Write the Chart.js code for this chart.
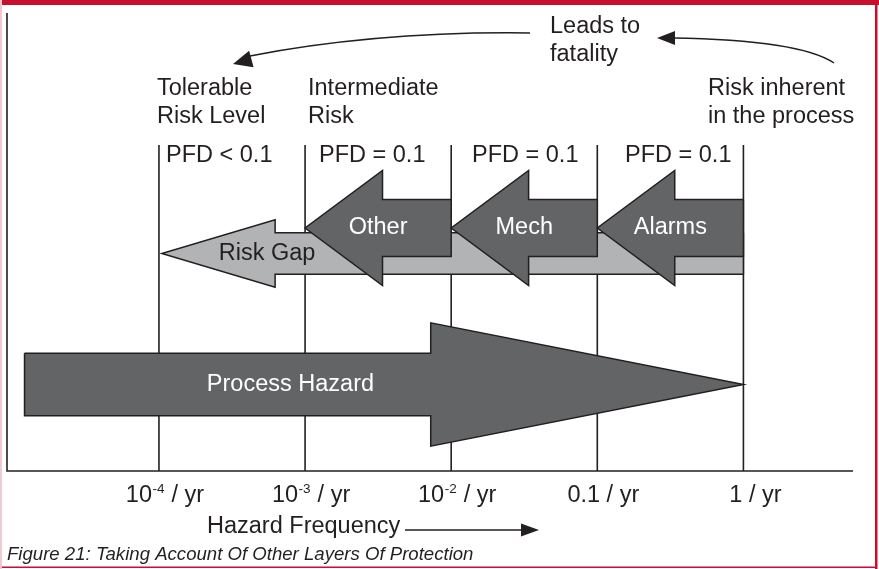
<!DOCTYPE html>
<html>
<head>
<meta charset="utf-8">
<script src="https://cdn.jsdelivr.net/npm/chart.js@4.4.0/dist/chart.umd.min.js"></script>
<style>
  html, body { margin: 0; padding: 0; background: #fff; }
  #wrap { width: 879px; height: 569px; position: relative; }
</style>
</head>
<body>
<div id="wrap"><canvas id="c" width="879" height="569"></canvas></div>
<script>
// hazard frequency, log10 of events per year
const decades = [-4, -3, -2, -1, 0];
const tickBase = ['10', '10', '10', '0.1', '1'];
const tickExp = ['-4', '-3', '-2', '', ''];
const pfdLabels = ['PFD < 0.1', 'PFD = 0.1', 'PFD = 0.1', 'PFD = 0.1'];

// protection layers, each takes the frequency down one decade
const layerNames = ['Alarms', 'Mech', 'Other'];
const layerFrom = [0, -1, -2];
const layerTo = [-1, -2, -3];

// unprotected process hazard and remaining gap
const hazardFrom = -4.92;
const hazardTo = 0;
const gapFrom = 0;
const gapTo = -3.98;

const FONT = '"Liberation Sans", Arial, Helvetica, sans-serif';
const INK = '#231f20';
const DARK = '#636466';
const LIGHT = '#b2b3b5';
const X_MIN = -5.04, X_MAX = 0.75, Y_MAX = 458;
const LINE_TOP = 326;

// arrow shapes: centre y, half heights, head length (in decades)
const LAYER = { y: 243, shaft: 28.5, head: 57.5, len: 0.53 };
const GAP = { y: 217.5, shaft: 20.7, head: 33.7, len: 0.775 };
const HAZ = { y: 86.5, shaft: 31.2, head: 61.7, len: 2.14 };

function arrow(tail, tip, g) {
  const d = tip > tail ? 1 : -1;
  const base = tip - d * g.len;
  const pts = [
    { x: tail, y: g.y + g.shaft },
    { x: base, y: g.y + g.shaft },
    { x: base, y: g.y + g.head },
    { x: tip, y: g.y },
    { x: base, y: g.y - g.head },
    { x: base, y: g.y - g.shaft },
    { x: tail, y: g.y - g.shaft },
  ];
  pts.push(pts[0]);
  return pts;
}

function shapeSet(data, fill, order) {
  return { data, backgroundColor: fill, borderColor: INK, borderWidth: 1.5, fill: 'shape',
    pointRadius: 0, tension: 0, order, borderJoinStyle: 'miter' };
}

const datasets = [];
layerNames.forEach((n, i) => datasets.push(shapeSet(arrow(layerFrom[i], layerTo[i], LAYER), DARK, 1)));
datasets.push(shapeSet(arrow(gapFrom, gapTo, GAP), LIGHT, 2));
datasets.push(shapeSet(arrow(hazardFrom, hazardTo, HAZ), DARK, 2));
decades.forEach(d => datasets.push({ data: [{ x: d, y: 0 }, { x: d, y: LINE_TOP }], borderColor: INK,
  borderWidth: 1.6, pointRadius: 0, fill: false, order: 3 }));
datasets.push({ data: [{ x: X_MIN, y: Y_MAX }, { x: X_MIN, y: 0 }, { x: X_MAX, y: 0 }], borderColor: INK,
  borderWidth: 1.6, pointRadius: 0, fill: false, order: 3, clip: false });

function head(ctx, tx, ty, ang, len, hw) {
  ctx.beginPath();
  ctx.moveTo(tx, ty);
  ctx.lineTo(tx - len * Math.cos(ang) + hw * Math.sin(ang), ty - len * Math.sin(ang) - hw * Math.cos(ang));
  ctx.lineTo(tx - len * Math.cos(ang) - hw * Math.sin(ang), ty - len * Math.sin(ang) + hw * Math.cos(ang));
  ctx.closePath();
  ctx.fill();
}

function lines(ctx, arr, x, y0, lh) {
  arr.forEach((t, i) => ctx.fillText(t, x, y0 + i * lh));
}

const annotations = {
  id: 'annotations',
  afterDatasetsDraw(chart) {
    const ctx = chart.ctx;
    const xs = chart.scales.x, ys = chart.scales.y;
    const px = v => xs.getPixelForValue(v), py = v => ys.getPixelForValue(v);
    ctx.save();
    ctx.font = '23.5px ' + FONT;
    ctx.textBaseline = 'middle';
    ctx.textAlign = 'center';

    // labels inside arrows
    ctx.fillStyle = '#fff';
    layerNames.forEach((n, i) => ctx.fillText(n, px((layerFrom[i] + layerTo[i]) / 2), py(LAYER.y)));
    ctx.fillText('Process Hazard', px(-3.1), py(HAZ.y));
    ctx.fillStyle = INK;
    ctx.fillText('Risk Gap', px(-3.26), py(GAP.y));

    // header texts
    ctx.textAlign = 'left';
    ctx.textBaseline = 'alphabetic';
    lines(ctx, ['Tolerable', 'Risk Level'], 157, 95, 28);
    lines(ctx, ['Intermediate', 'Risk'], 308, 95, 28);
    lines(ctx, ['Risk inherent', 'in the process'], 708, 95, 28);
    lines(ctx, ['Leads to', 'fatality'], 550, 33, 28);
    const pfdX = [166, 319, 472, 625];
    pfdLabels.forEach((t, i) => ctx.fillText(t, pfdX[i], 162));

    // tick labels with superscripts
    decades.forEach((d, i) => {
      ctx.font = '23.5px ' + FONT;
      const wb = ctx.measureText(tickBase[i]).width;
      const ws = ' / yr';
      const wr = ctx.measureText(ws).width;
      ctx.font = '13.5px ' + FONT;
      const we = tickExp[i] ? ctx.measureText(tickExp[i]).width + 1 : 0;
      let x = px(d) + 6 - (wb + we + wr) / 2;
      if (i === decades.length - 1) x += 6;
      ctx.font = '23.5px ' + FONT;
      ctx.fillText(tickBase[i], x, 502);
      x += wb;
      if (tickExp[i]) {
        ctx.font = '13.5px ' + FONT;
        ctx.fillText(tickExp[i], x + 0.5, 493);
        x += we;
      }
      ctx.font = '23.5px ' + FONT;
      ctx.fillText(ws, x, 502);
    });

    // axis title with arrow
    ctx.fillText('Hazard Frequency', 207, 533);
    ctx.strokeStyle = INK;
    ctx.fillStyle = INK;
    ctx.lineWidth = 1.5;
    ctx.beginPath();
    ctx.moveTo(405, 530); ctx.lineTo(525, 530); ctx.stroke();
    head(ctx, 539, 530, 0, 18, 6.5);

    // curved arrows
    ctx.beginPath();
    ctx.moveTo(530, 33);
    ctx.quadraticCurveTo(380, 31, 250, 56);
    ctx.stroke();
    head(ctx, 233, 64, Math.atan2(64 - 50, 233 - 285), 19, 8.5);
    ctx.beginPath();
    ctx.moveTo(834, 63);
    ctx.quadraticCurveTo(800, 40, 672, 38);
    ctx.stroke();
    head(ctx, 657, 38, Math.PI, 18, 7);

    // caption
    ctx.font = 'italic 18.6px ' + FONT;
    ctx.fillText('Figure 21: Taking Account Of Other Layers Of Protection', 7, 560);

    // frame
    ctx.fillStyle = '#c8102e';
    ctx.fillRect(0, 0, 879, 5);
    ctx.fillRect(875, 0, 2.5, 569);
    ctx.fillRect(0, 566.5, 877, 1.5);
    ctx.fillStyle = '#f3c9d1';
    ctx.fillRect(0, 0, 2, 569);
    ctx.restore();
  }
};

new Chart(document.getElementById('c'), {
  type: 'line',
  data: { datasets },
  options: {
    responsive: false,
    animation: false,
    devicePixelRatio: 1,
    events: [],
    layout: { padding: { left: 7, right: 26, top: 13, bottom: 98 } },
    scales: {
      x: { type: 'linear', min: X_MIN, max: X_MAX, display: false },
      y: { type: 'linear', min: 0, max: Y_MAX, display: false },
    },
    plugins: { legend: { display: false }, tooltip: { enabled: false } },
  },
  plugins: [annotations],
});
</script>
</body>
</html>
